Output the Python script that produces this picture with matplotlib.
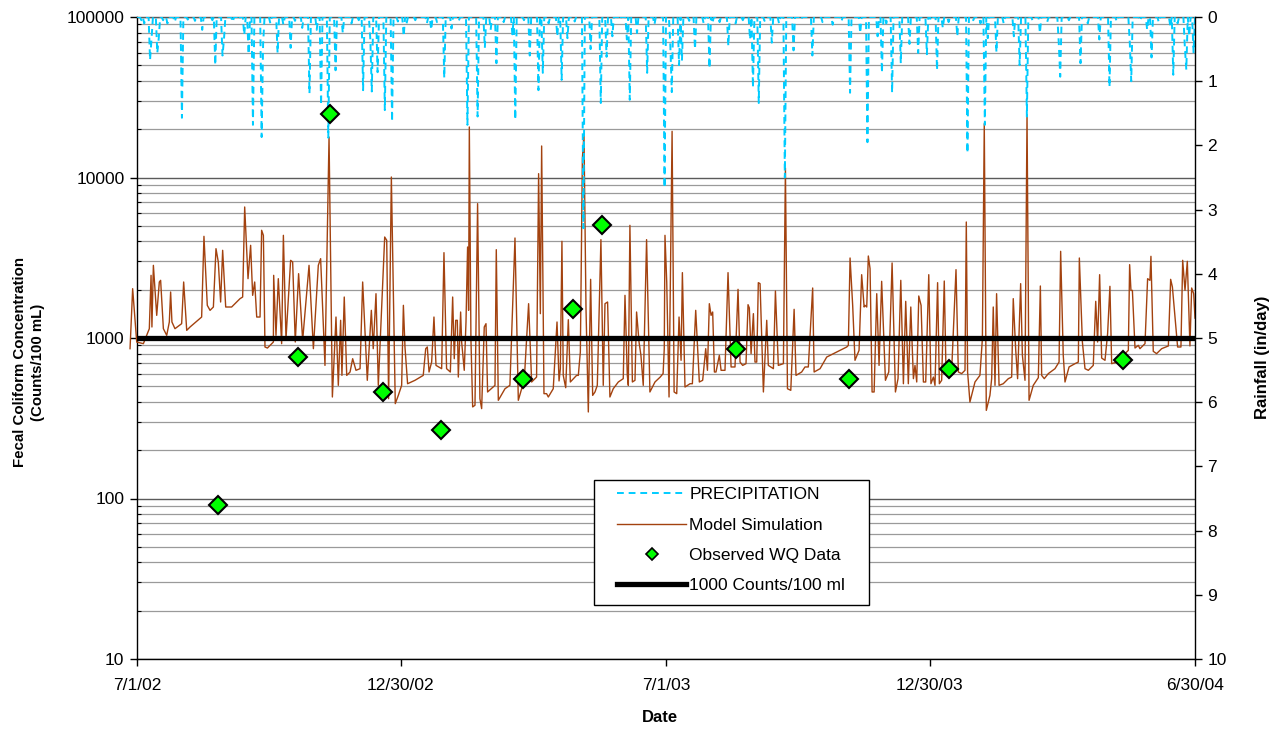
import datetime as dt

import numpy as np
import matplotlib
matplotlib.use("Agg")
import matplotlib.pyplot as plt
import matplotlib.dates as mdates
from matplotlib.lines import Line2D
from matplotlib.patches import Rectangle
from matplotlib.ticker import LogLocator, FixedLocator, FuncFormatter, NullFormatter

plt.rcParams["font.family"] = ["Liberation Sans", "DejaVu Sans"]

START = dt.date(2002, 7, 1)
END_DAY = 730

# Model simulation: days since 7/1/2002 and fecal coliform (counts/100 mL)
sim_day = [
    -4.8, -3.0, -0.2, 4.4, 8.5, 9.7, 10.3, 11.3, 13.6, 15.4, 16.3, 18.2, 20.5, 22.3, 23.2,
    24.1, 26.2, 30.8, 32.2, 34.3, 36.6, 44.6, 46.2, 48.5, 50.4, 52.7, 54.5, 56.1, 57.7,
    59.1, 61.2, 65.3, 71.1, 72.9, 74.3, 76.6, 78.4, 79.8, 81.2, 82.6, 84.9, 86.0, 87.2,
    88.3, 90.0, 94.1, 94.3, 95.9, 97.5, 99.8, 101.0, 102.8, 106.0, 107.4, 109.2, 111.5,
    114.3, 118.7, 121.7, 125.1, 126.7, 129.7, 132.5, 134.8, 137.3, 138.9, 140.5, 141.4,
    143.0, 144.7, 147.0, 148.8, 151.1, 153.9, 155.7, 158.9, 161.7, 163.0, 164.9, 166.5,
    170.9, 172.3, 173.6, 175.5, 178.2, 180.3, 182.6, 183.8, 184.9, 186.7, 191.8, 197.5,
    199.2, 200.3, 201.5, 203.3, 204.9, 206.3, 210.2, 211.8, 213.6, 216.2, 217.8, 218.9,
    219.9, 221.0, 221.7, 223.3, 224.0, 225.8, 227.0, 228.1, 228.8, 229.3, 230.4, 231.6,
    233.2, 235.0, 236.6, 237.8, 239.6, 240.8, 241.9, 247.0, 247.9, 249.3, 253.9, 257.3,
    260.8, 263.1, 265.4, 267.2, 270.2, 272.3, 275.7, 277.1, 278.3, 279.2, 280.8, 282.6,
    283.8, 287.2, 289.8, 291.2, 292.1, 293.2, 294.1, 295.8, 297.6, 299.0, 303.3, 304.5,
    305.9, 307.3, 308.4, 309.8, 311.4, 313.0, 314.4, 316.0, 317.6, 320.1, 321.7, 322.9,
    324.7, 326.3, 328.6, 332.1, 335.5, 336.7, 338.3, 339.0, 340.1, 341.8, 343.6, 344.7,
    346.4, 347.7, 349.3, 351.6, 353.9, 357.4, 361.0, 363.0, 363.8, 364.3, 365.5, 367.1,
    369.2, 370.6, 372.4, 374.0, 375.4, 376.3, 378.1, 381.6, 383.2, 385.5, 388.0, 390.3,
    392.4, 393.6, 394.9, 396.1, 397.2, 398.4, 399.5, 401.8, 403.0, 405.7, 407.8, 409.9,
    412.6, 414.7, 416.1, 417.9, 420.2, 421.6, 422.5, 423.7, 425.3, 426.4, 427.6, 428.7,
    429.9, 432.2, 434.5, 435.6, 439.1, 440.5, 442.5, 446.0, 447.4, 448.8, 451.1, 453.4,
    454.7, 458.6, 460.9, 463.2, 466.2, 467.2, 471.3, 475.9, 480.5, 485.1, 489.7, 490.8,
    492.0, 493.8, 495.4, 498.2, 500.0, 501.7, 502.3, 503.5, 504.6, 505.8, 507.2, 508.6,
    510.4, 512.0, 513.8, 516.4, 518.7, 521.0, 523.3, 525.1, 527.0, 528.8, 530.4, 532.2,
    533.9, 535.7, 536.8, 538.0, 539.4, 541.0, 542.6, 544.2, 546.3, 547.8, 549.5, 550.6,
    552.4, 553.6, 555.2, 557.0, 558.2, 559.8, 562.1, 565.1, 566.7, 569.0, 571.3, 572.2,
    573.1, 574.7, 578.2, 581.6, 583.3, 584.6, 586.0, 588.5, 589.7, 590.8, 592.0, 593.1,
    594.8, 597.7, 601.2, 603.5, 604.6, 606.3, 607.6, 609.7, 610.9, 612.7, 614.1, 615.5,
    618.4, 621.9, 623.3, 624.2, 626.0, 628.8, 633.4, 636.2, 637.3, 639.1, 640.3, 643.1,
    647.2, 649.5, 650.2, 652.3, 654.1, 656.4, 659.8, 661.5, 662.8, 664.2, 665.6, 667.9,
    669.7, 671.3, 672.5, 675.9, 679.4, 681.7, 684.0, 684.9, 685.8, 686.8, 688.6, 690.9,
    692.0, 695.5, 697.3, 698.9, 699.6, 701.2, 703.5, 707.0, 711.6, 713.2, 714.4, 715.7,
    718.0, 720.3, 721.5, 723.1, 724.7, 726.5, 727.7, 729.1, 730.0,
]
sim_val = [
    858, 2029, 944, 922, 1143, 2457, 1171, 2836, 1384, 2233, 2287, 1143, 1039, 1258, 1934,
    1258, 1143, 1228, 2233, 1116, 1171, 1351, 4300, 1598, 1487, 1560, 3602, 2975, 1676,
    3518, 1560, 1560, 1759, 1800, 6550, 2342, 3780, 1844, 2233, 1351, 1351, 4690, 4362,
    879, 866, 944, 2457, 1039, 2342, 922, 4362, 990, 3048, 2975, 944, 2516,
    967, 2836, 858, 2836, 3121, 675, 17880, 429, 1351, 507, 1289, 585,
    1800, 585, 614, 743, 629, 644, 2233, 545, 1487, 858, 1888, 507,
    4258, 4060, 419, 10070, 390, 439, 507, 1598, 879, 519, 545, 585,
    858, 879, 614, 708, 1351, 675, 644, 3402, 644, 614, 1800, 743,
    1289, 1289, 571, 1452, 944, 629, 1258, 3690, 1487, 20640, 990, 372,
    381, 6871, 419, 363, 1171, 1228, 461, 507, 3551, 409, 483, 507,
    4198, 409, 483, 545, 1636, 532, 571, 10565, 1418, 15715, 450, 450,
    429, 483, 1258, 540, 644, 4003, 585, 490, 1300, 532, 585, 585,
    818, 13100, 18750, 1523, 346, 2320, 439, 461, 507, 4100, 507, 1636,
    1676, 429, 483, 532, 558, 1844, 585, 507, 5035, 532, 545, 1452,
    944, 780, 507, 4100, 461, 532, 571, 600, 858, 4362, 2233, 429,
    19400, 461, 450, 1351, 726, 2554, 495, 519, 519, 1487, 532, 545,
    858, 629, 1636, 1384, 1452, 614, 614, 780, 629, 629, 2554, 660,
    660, 2010, 708, 675, 692, 1613, 1538, 799, 1418, 708, 708, 2212,
    2181, 461, 1289, 675, 644, 1963, 675, 692, 11460, 483, 472, 1509,
    585, 614, 660, 660, 2049, 614, 644, 761, 799, 838, 879, 900,
    3151, 1598, 726, 838, 2480, 1560, 1598, 1560, 3243, 2704, 461, 461,
    1888, 675, 2255, 545, 614, 2934, 461, 558, 2287, 519, 1692, 519,
    1560, 558, 675, 532, 1827, 1598, 532, 532, 2480, 519, 571, 507,
    2212, 519, 545, 2265, 614, 585, 629, 2666, 614, 600, 629, 5282,
    614, 399, 532, 585, 990, 21640, 354, 439, 558, 1560, 507, 1888,
    507, 519, 558, 571, 1759, 838, 558, 2181, 780, 545, 24630, 409,
    507, 566, 2109, 585, 558, 600, 644, 708, 3467, 780, 532, 660,
    692, 708, 3151, 944, 644, 629, 675, 1692, 944, 2480, 750, 726,
    1064, 2099, 692, 708, 743, 799, 838, 2864, 1980, 1980, 866, 900,
    858, 922, 2342, 2287, 3228, 826, 799, 858, 892, 2320, 2079, 1523,
    879, 879, 3048, 1980, 3005, 892, 2049, 1888, 1330,
]

# Daily rainfall (in/day) on wet days, days since 7/1/2002; all other days are dry
rain_day = [
    3, 5, 9, 10, 14, 15, 18, 21, 26, 31, 35, 40, 45, 52, 54, 59, 60, 66, 70, 74, 77, 80,
    86, 87, 92, 97, 101, 106, 109, 114, 119, 124, 127, 132, 137, 142, 148, 153, 156, 161,
    162, 166, 171, 176, 180, 184, 186, 192, 200, 203, 207, 212, 217, 222, 228, 235, 240,
    244, 248, 253, 259, 261, 267, 271, 277, 280, 284, 290, 293, 297, 302, 308, 313, 320,
    324, 328, 333, 338, 340, 345, 352, 357, 364, 368, 369, 374, 376, 381, 385, 391, 395,
    397, 402, 408, 413, 418, 423, 425, 429, 433, 438, 443, 447, 453, 458, 466, 473, 480,
    486, 492, 499, 504, 511, 514, 517, 521, 527, 533, 539, 545, 548, 552, 556, 560, 566,
    573, 577, 582, 585, 587, 593, 598, 605, 609, 614, 618, 623, 628, 636, 637, 643, 651,
    656, 664, 671, 676, 685, 686, 692, 697, 700, 705, 713, 715, 718, 723, 724, 726, 729,
]
rain_in = [
    0.05, 0.10, 0.67, 0.35, 0.56, 0.33, 0.05, 0.10, 0.08, 1.57, 0.04, 0.06, 0.20, 0.05,
    0.75, 0.60, 0.35, 0.08, 0.05, 0.28, 0.58, 1.68, 1.87, 0.43, 0.10, 0.56, 0.12, 0.48,
    0.06, 0.17, 1.19, 0.20, 1.37, 1.88, 0.83, 0.25, 0.10, 0.05, 1.14, 0.35, 1.16, 0.86,
    1.45, 1.63, 0.07, 0.30, 0.10, 0.05, 0.10, 0.20, 0.08, 0.95, 0.18, 0.06, 1.68, 1.55,
    0.48, 0.20, 0.72, 0.08, 0.27, 1.60, 0.05, 0.60, 1.14, 0.87, 0.10, 0.30, 0.98, 0.33,
    0.07, 3.29, 0.50, 1.34, 0.62, 0.30, 0.05, 0.35, 1.29, 0.25, 0.87, 0.12, 2.66, 0.45,
    1.17, 0.75, 0.68, 0.06, 0.50, 0.10, 0.80, 0.10, 0.08, 0.45, 0.10, 0.05, 0.35, 1.10,
    1.34, 0.06, 0.40, 0.10, 2.50, 0.52, 0.05, 0.60, 0.08, 0.12, 0.07, 1.18, 0.25, 1.95,
    0.30, 0.87, 0.10, 1.18, 0.72, 0.42, 0.56, 0.58, 0.06, 0.83, 0.17, 0.08, 0.30, 2.12,
    0.05, 0.10, 1.68, 0.33, 0.55, 0.10, 0.30, 0.75, 1.55, 0.06, 0.25, 0.08, 0.40, 0.93,
    0.05, 0.72, 0.10, 0.35, 1.09, 0.07, 0.40, 1.00, 0.06, 0.20, 0.63, 0.08, 0.15, 0.90,
    0.10, 0.47, 0.82, 0.30, 0.55,
]

# Observed water-quality samples
obs_date = [
    "2002-08-26", "2002-10-20", "2002-11-11", "2002-12-18", "2003-01-27", "2003-03-24",
    "2003-04-28", "2003-05-18", "2003-08-18", "2003-11-04", "2004-01-12", "2004-05-11",
]
obs_val = [91, 762, 24900, 461, 267, 556, 1517, 5060, 853, 556, 641, 730]

standard_value = 1000

tick_dates = ["2002-07-01", "2002-12-30", "2003-07-01", "2003-12-30", "2004-06-30"]
tick_labels = ["7/1/02", "12/30/02", "7/1/03", "12/30/03", "6/30/04"]

# ---------------------------------------------------------------------------
W, H = 1286, 731
t0 = mdates.date2num(START)
x_sim = t0 + np.asarray(sim_day, dtype=float)

days = np.arange(0, END_DAY + 1)
rain = np.zeros(days.size)
rain[np.asarray(rain_day)] = rain_in
x_rain = t0 + days

x_obs = mdates.datestr2num(obs_date)
x_ticks = mdates.datestr2num(tick_dates)

fig = plt.figure(figsize=(W / 100, H / 100), dpi=100)
ax = fig.add_axes([137 / W, 1 - 659 / H, (1195 - 137) / W, (659 - 17) / H])
ax2 = ax.twinx()

SIM_COLOR = "#A3420F"
RAIN_COLOR = "#00CCFF"
RAIN_DASH = (0, (3.5, 2.5))

ax.set_yscale("log")
ax.set_ylim(10, 1e5)
ax.set_xlim(t0, t0 + END_DAY)

ax.yaxis.set_major_locator(FixedLocator([10, 100, 1000, 10000, 100000]))
ax.yaxis.set_major_formatter(FuncFormatter(lambda v, p: f"{v:.0f}"))
ax.yaxis.set_minor_locator(LogLocator(base=10, subs=np.arange(2, 10)))
ax.yaxis.set_minor_formatter(NullFormatter())
ax.grid(True, which="major", axis="y", color="#5a5a5a", lw=1.0)
ax.grid(True, which="minor", axis="y", color="#9a9a9a", lw=0.9)
ax.set_axisbelow(True)

ax.set_xticks(x_ticks)
ax.set_xticklabels(tick_labels)

ax.plot(x_sim, sim_val, color=SIM_COLOR, lw=1.0, zorder=3, clip_on=False)
ax.axhline(standard_value, color="black", lw=3.8, zorder=4)

ax2.set_ylim(10, 0)
ax2.set_yticks(np.arange(0, 11, 1))
ax2.plot(x_rain, rain, color=RAIN_COLOR, lw=1.4, ls=RAIN_DASH, zorder=2)
ax2.plot(x_obs, obs_val, transform=ax.transData, ls="none", marker="D",
         markersize=9, markerfacecolor="#00FF00", markeredgecolor="black",
         markeredgewidth=1.5, zorder=5, clip_on=False)
ax2.set_ylim(10, 0)
ax2.set_xlim(t0, t0 + END_DAY)

for a in (ax, ax2):
    for s in a.spines.values():
        s.set_linewidth(1.0)
ax.spines["top"].set_color("#5a5a5a")
ax2.spines["top"].set_visible(False)
ax2.spines["left"].set_visible(False)
ax2.spines["bottom"].set_visible(False)
ax.spines["right"].set_visible(False)

ax.tick_params(axis="y", which="major", direction="out", length=5, width=1, pad=4,
               labelsize=12.5)
ax.tick_params(axis="y", which="minor", direction="in", length=3, width=0.8)
ax.tick_params(axis="x", which="major", direction="out", length=5, width=1, pad=9,
               labelsize=12.5)
ax2.tick_params(axis="y", direction="out", length=5, width=1, pad=4, labelsize=12.5)

fig.text(660 / W, 1 - 718 / H, "Date", ha="center", va="center",
         fontsize=12, fontweight="bold")
fig.text(29 / W, 1 - 362 / H, "Fecal Coliform Concentration\n(Counts/100 mL)",
         ha="center", va="center", rotation=90, fontsize=10.8, fontweight="bold",
         linespacing=1.45)
fig.text(1262 / W, 1 - 357 / H, "Rainfall (in/day)", ha="center", va="center",
         rotation=90, fontsize=12, fontweight="bold")

# Legend box drawn as its own rectangle so the padding can be set freely
fig.add_artist(Rectangle((594 / W, 1 - 605 / H), 275 / W, 125 / H,
                         transform=fig.transFigure, facecolor="white",
                         edgecolor="black", lw=1.0, zorder=4))
handles = [
    Line2D([], [], color=RAIN_COLOR, lw=1.4, ls=RAIN_DASH),
    Line2D([], [], color=SIM_COLOR, lw=1.0),
    Line2D([], [], ls="none", marker="D", markersize=6, markerfacecolor="#00FF00",
           markeredgecolor="black", markeredgewidth=1.2),
    Line2D([], [], color="black", lw=3.8),
]
labels = ["PRECIPITATION", "Model Simulation", "Observed WQ Data", "1000 Counts/100 ml"]
leg = fig.legend(handles, labels, loc="upper left",
                 bbox_to_anchor=(617 / W, 1 - 487 / H), bbox_transform=fig.transFigure,
                 fontsize=12.5, frameon=False, handlelength=4.0, handletextpad=0.17,
                 labelspacing=0.88, borderpad=0, borderaxespad=0)
leg.set_zorder(5)

fig.savefig("out.png", dpi=100)
